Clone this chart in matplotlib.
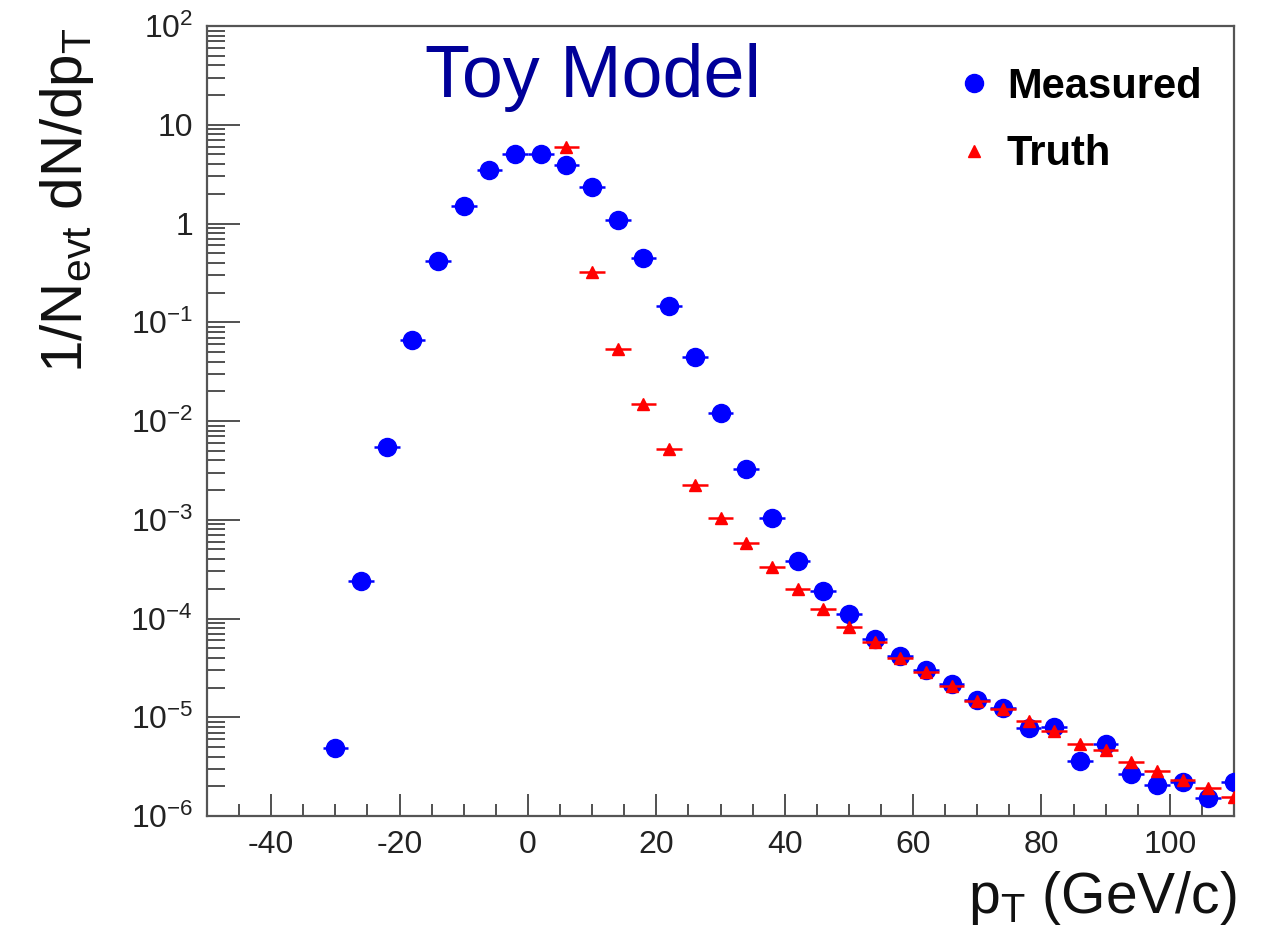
import numpy as np
import matplotlib
matplotlib.use("Agg")
import matplotlib.pyplot as plt
from matplotlib.lines import Line2D
from matplotlib.ticker import FixedLocator, LogLocator, FuncFormatter, MultipleLocator

plt.rcParams['font.family'] = ['Liberation Sans', 'DejaVu Sans']
plt.rcParams['mathtext.fontset'] = 'custom'
plt.rcParams['mathtext.rm'] = 'Liberation Sans'
plt.rcParams['mathtext.it'] = 'Liberation Sans:italic'
plt.rcParams['mathtext.bf'] = 'Liberation Sans:bold'
plt.rcParams['axes.unicode_minus'] = False

# bin centres (GeV/c), bin width 4
pt_measured = [-30, -26, -22, -18, -14, -10, -6, -2, 2, 6, 10, 14, 18, 22, 26,
               30, 34, 38, 42, 46, 50, 54, 58, 62, 66, 70, 74, 78, 82, 86, 90,
               94, 98, 102, 106, 110]
yield_measured = [4.9e-6, 2.4e-4, 5.5e-3, 0.066, 0.42, 1.5, 3.5, 5.0, 5.1, 3.9,
                  2.35, 1.08, 0.45, 0.145, 0.044, 0.012, 3.3e-3, 1.03e-3,
                  3.8e-4, 1.9e-4, 1.12e-4, 6.2e-5, 4.2e-5, 3.0e-5, 2.15e-5,
                  1.5e-5, 1.25e-5, 7.8e-6, 8.0e-6, 3.6e-6, 5.4e-6, 2.65e-6,
                  2.07e-6, 2.2e-6, 1.52e-6, 2.2e-6]

pt_truth = [6, 10, 14, 18, 22, 26, 30, 34, 38, 42, 46, 50, 54, 58, 62, 66, 70,
            74, 78, 82, 86, 90, 94, 98, 102, 106, 110]
yield_truth = [5.95, 0.32, 0.054, 0.0148, 5.2e-3, 2.25e-3, 1.03e-3, 5.8e-4,
               3.35e-4, 2.0e-4, 1.26e-4, 8.2e-5, 5.8e-5, 4.0e-5, 2.85e-5,
               2.05e-5, 1.45e-5, 1.2e-5, 9.1e-6, 7.2e-6, 5.4e-6, 4.7e-6,
               3.5e-6, 2.85e-6, 2.3e-6, 1.9e-6, 1.55e-6]
half_bin = 2.0

fig = plt.figure(figsize=(12.63, 9.43), dpi=100)
ax = fig.add_axes([207 / 1263, 127 / 943, 1027 / 1263, 790 / 943])

ax.errorbar(pt_measured, yield_measured, xerr=half_bin, fmt='o', color='#0000ff',
            markersize=13, elinewidth=1.8, capsize=0, zorder=3)
ax.errorbar(pt_truth, yield_truth, xerr=half_bin, fmt='^', color='#ff0000',
            markersize=9, elinewidth=1.8, capsize=0, zorder=4)

ax.set_yscale('log')
ax.set_xlim(-50, 110)
ax.set_ylim(1e-6, 1e2)

# ROOT-like frame and ticks
for side in ax.spines.values():
    side.set_color('#555555')
    side.set_linewidth(1.6)
ax.xaxis.set_major_locator(MultipleLocator(20))
ax.xaxis.set_minor_locator(MultipleLocator(5))
ax.yaxis.set_major_locator(FixedLocator([10.0 ** k for k in range(-6, 3)]))
ax.yaxis.set_minor_locator(LogLocator(base=10, subs=np.arange(2, 10)))


def decade_label(v, pos):
    k = int(round(np.log10(v)))
    if k == 0:
        return '1'
    if k == 1:
        return '10'
    return r'$10^{%d}$' % k


ax.yaxis.set_major_formatter(FuncFormatter(decade_label))
ax.yaxis.set_minor_formatter(FuncFormatter(lambda v, pos: ''))

ax.tick_params(axis='both', which='both', direction='in', colors='#333333',
               labelcolor='#222222', labelsize=23, width=1.2, pad=10,
               top=False, right=False)
ax.tick_params(axis='y', which='major', length=24)
ax.tick_params(axis='y', which='minor', length=13)
ax.tick_params(axis='x', which='major', length=16)
ax.tick_params(axis='x', which='minor', length=8.5)

fig.text(0.053, 0.971, r'1/N$_{\rm evt}$ dN/dp$_{\rm T}$', rotation=90,
         ha='center', va='top', fontsize=42, color='#111111')
fig.text(0.979, 0.079, r'p$_{\rm T}$ (GeV/c)', ha='right', va='top',
         fontsize=41, color='#111111')
fig.text(425 / 1263, 1 - 97 / 943, 'Toy Model', ha='left', va='baseline',
         fontsize=53, color='#000099')

handles = [Line2D([], [], linestyle='none', marker='o', color='#0000ff', markersize=13),
           Line2D([], [], linestyle='none', marker='^', color='#ff0000', markersize=9)]
ax.legend(handles, ['Measured', 'Truth'], loc='upper left',
          bbox_to_anchor=(936 / 1263, 1 - 46 / 943), bbox_transform=fig.transFigure,
          frameon=False, prop={'weight': 'bold', 'size': 30},
          handlelength=0.8, handletextpad=0.4, labelspacing=0.66, borderpad=0)

fig.savefig('out.png', dpi=100, facecolor='white')
